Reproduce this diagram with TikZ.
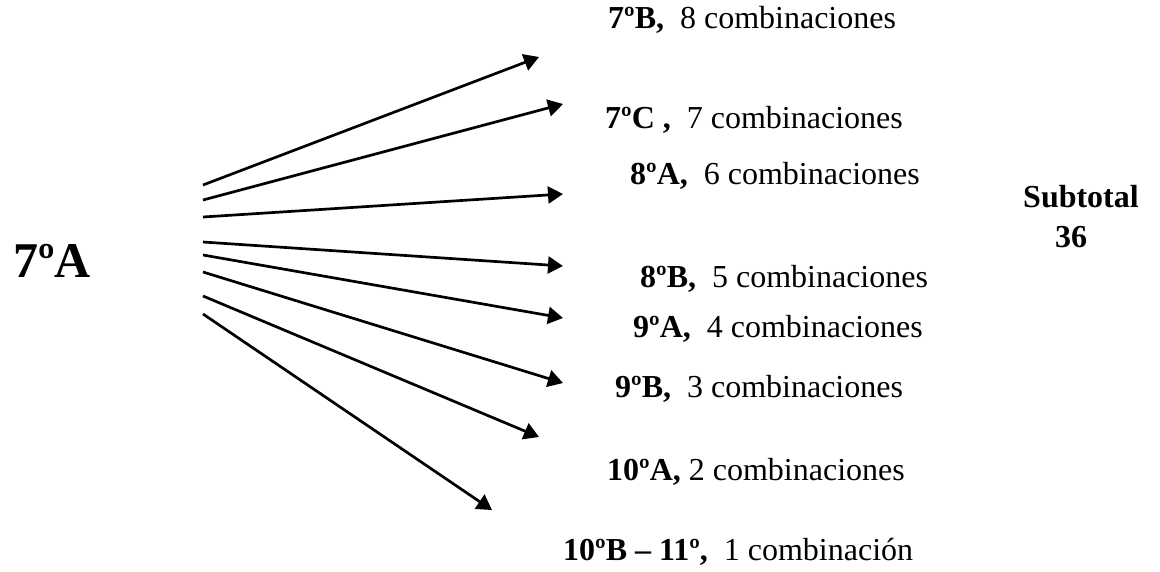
\documentclass[tikz,border=0pt]{standalone}
\usepackage{fontspec}
\setmainfont{Liberation Serif}
\usetikzlibrary{arrows.meta}
\begin{document}
\begin{tikzpicture}[x=1pt,y=-1pt,
  conn/.style={line width=2.7pt,-{Triangle[length=15pt,width=17pt]}},
  lbl/.style={anchor=base west,inner sep=0pt,font=\fontsize{32}{36}\selectfont},
  big/.style={anchor=base west,inner sep=0pt,font=\fontsize{50}{56}\selectfont\bfseries},
  sub/.style={anchor=base west,inner sep=0pt,font=\fontsize{32}{36}\selectfont\bfseries}]
\useasboundingbox (0,0) rectangle (1160,571);
\node[big] (src) at (13,277) {7ºA};
% start points on the right of the source
\coordinate (s1) at (203,185);
\coordinate (s2) at (203,200);
\coordinate (s3) at (203,217);
\coordinate (s4) at (203,242);
\coordinate (s5) at (203,255);
\coordinate (s6) at (203,272);
\coordinate (s7) at (203,296);
\coordinate (s8) at (203,314);
% arrow tips
\coordinate (t1) at (539,57);
\coordinate (t2) at (563,104);
\coordinate (t3) at (563,194);
\coordinate (t4) at (563,266);
\coordinate (t5) at (563,318);
\coordinate (t6) at (563,383);
\coordinate (t7) at (539,437);
\coordinate (t8) at (492,510);
\foreach \i in {1,...,8} \draw[conn] (s\i) -- (t\i);
% labels
\node[lbl] (l1) at (608,28)  {\textbf{7ºB,}\ \ 8 combinaciones};
\node[lbl] (l2) at (605,128) {\textbf{7ºC ,}\ \ 7 combinaciones};
\node[lbl] (l3) at (630,184) {\textbf{8ºA,}\ \ 6 combinaciones};
\node[lbl] (l4) at (640,287) {\textbf{8ºB,}\ \ 5 combinaciones};
\node[lbl] (l5) at (633,337) {\textbf{9ºA,}\ \ 4 combinaciones};
\node[lbl] (l6) at (615,397) {\textbf{9ºB,}\ \ 3 combinaciones};
\node[lbl] (l7) at (607,480) {\textbf{10ºA,} 2 combinaciones};
\node[lbl] (l8) at (563,560) {\textbf{10ºB – 11º,}\ \ 1 combinación};
\node[sub] (st) at (1023,207) {Subtotal};
\node[sub] (sn) at (1055,247) {36};
\end{tikzpicture}
\end{document}
